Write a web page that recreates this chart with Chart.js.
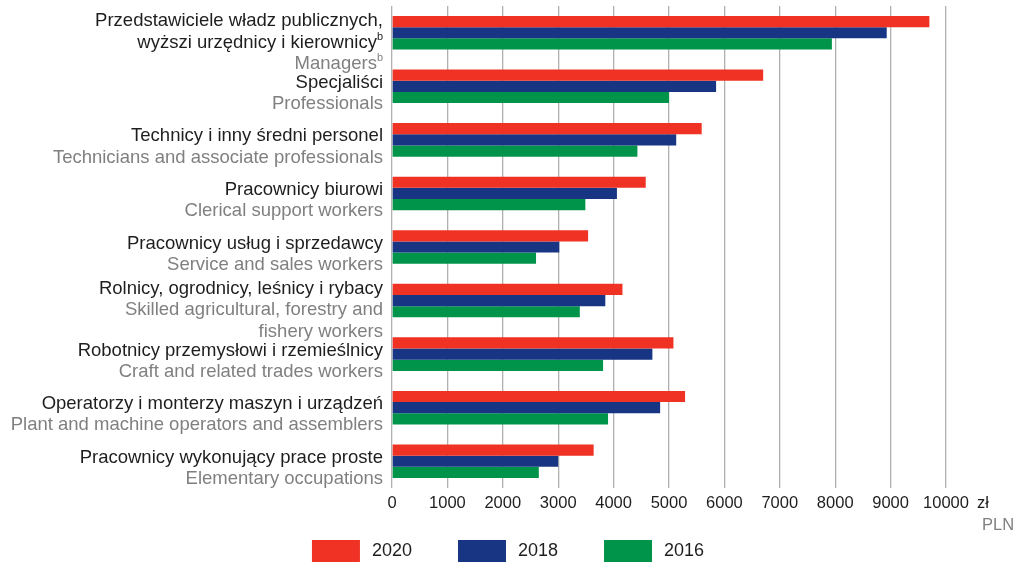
<!DOCTYPE html>
<html>
<head>
<meta charset="utf-8">
<script src="https://cdn.jsdelivr.net/npm/chart.js@4"></script>
<style>
  html, body { margin: 0; padding: 0; background: #fff; }
  #wrap { width: 1024px; height: 562px; position: relative; }
</style>
</head>
<body>
<div id="wrap"><canvas id="barChart"></canvas></div>
<script>
// categories: polish lines (black) and english lines (gray), "^b" = superscript note
var catPL = [
  ["Przedstawiciele władz publicznych,", "wyższi urzędnicy i kierownicy^b"],
  ["Specjaliści"],
  ["Technicy i inny średni personel"],
  ["Pracownicy biurowi"],
  ["Pracownicy usług i sprzedawcy"],
  ["Rolnicy, ogrodnicy, leśnicy i rybacy"],
  ["Robotnicy przemysłowi i rzemieślnicy"],
  ["Operatorzy i monterzy maszyn i urządzeń"],
  ["Pracownicy wykonujący prace proste"]
]
var catEN = [
  ["Managers^b"],
  ["Professionals"],
  ["Technicians and associate professionals"],
  ["Clerical support workers"],
  ["Service and sales workers"],
  ["Skilled agricultural, forestry and", "fishery workers"],
  ["Craft and related trades workers"],
  ["Plant and machine operators and assemblers"],
  ["Elementary occupations"]
]
var years = ["2020", "2018", "2016"]
var v2020 = [9700, 6700, 5590, 4580, 3540, 4160, 5080, 5290, 3640]
var v2018 = [8930, 5850, 5130, 4060, 3020, 3850, 4700, 4840, 3000]
var v2016 = [7940, 5000, 4430, 3490, 2600, 3390, 3810, 3900, 2650]
var xTicks = [0, 1000, 2000, 3000, 4000, 5000, 6000, 7000, 8000, 9000, 10000]

var colors = ['#ef3224', '#173583', '#00944a']
var FONT = "'Liberation Sans', Arial, sans-serif"
var BLACK = '#1e1e1e'
var GRAY = '#808080'

Chart.defaults.font.family = FONT
Chart.defaults.font.size = 16.5
Chart.defaults.color = BLACK

function drawLine(ctx, text, x, y, color) {
  var sup = null
  if (text.indexOf('^') >= 0) {
    sup = text.split('^')[1]
    text = text.split('^')[0]
  }
  ctx.fillStyle = color
  var right = x
  if (sup) {
    ctx.font = '11px ' + FONT
    var w = ctx.measureText(sup).width
    ctx.textAlign = 'right'
    ctx.fillText(sup, right, y - 6)
    right = right - w
  }
  ctx.font = '18.5px ' + FONT
  ctx.textAlign = 'right'
  ctx.fillText(text, right, y)
}

var extras = {
  id: 'extras',
  afterDraw: function (chart) {
    var ctx = chart.ctx
    var y = chart.scales.y
    var x = chart.scales.x
    ctx.save()
    ctx.textBaseline = 'middle'
    // category labels
    for (var i = 0; i < catPL.length; i++) {
      var c = y.getPixelForValue(i)
      var lines = catPL[i].map(function (t) { return [t, BLACK] })
        .concat(catEN[i].map(function (t) { return [t, GRAY] }))
      var n = lines.length
      var top = c - 3.5 - (n - 2) * 8
      for (var j = 0; j < n; j++) {
        drawLine(ctx, lines[j][0], 383, top + j * 21.2, lines[j][1])
      }
    }
    // unit
    var px = x.getPixelForValue(10000)
    ctx.font = '16.5px ' + FONT
    ctx.textAlign = 'left'
    ctx.fillStyle = BLACK
    ctx.fillText('zł', px + 31, 503)
    ctx.fillStyle = GRAY
    ctx.fillText('PLN', px + 36, 525)
    // legend
    ctx.font = '18px ' + FONT
    var boxW = 48, boxH = 22, gap = 12, space = 46
    var widths = years.map(function (t) { return boxW + gap + ctx.measureText(t).width })
    var total = widths.reduce(function (a, b) { return a + b }, 0) + space * (years.length - 1)
    var lx = 508 - total / 2
    for (var k = 0; k < years.length; k++) {
      ctx.fillStyle = colors[k]
      ctx.fillRect(lx, 540, boxW, boxH)
      ctx.fillStyle = BLACK
      ctx.fillText(years[k], lx + boxW + gap, 551)
      lx += widths[k] + space
    }
    ctx.restore()
  }
}

var chart = new Chart('barChart', {
  type: 'bar',
  data: {
    labels: catEN.map(function (l) { return l.join(' ') }),
    datasets: [
      { label: years[0], data: v2020, backgroundColor: colors[0] },
      { label: years[1], data: v2018, backgroundColor: colors[1] },
      { label: years[2], data: v2016, backgroundColor: colors[2] }
    ]
  },
  options: {
    indexAxis: 'y',
    responsive: true,
    maintainAspectRatio: false,
    animation: false,
    categoryPercentage: 0.627,
    barPercentage: 1.0,
    layout: { padding: { top: 6, right: 78, left: 0, bottom: 0 } },
    plugins: {
      legend: { display: false },
      tooltip: { enabled: false }
    },
    scales: {
      x: {
        min: 0,
        max: 10000,
        afterBuildTicks: function (s) { s.ticks = xTicks.map(function (v) { return { value: v } }) },
        afterFit: function (s) { s.height = 74 },
        grid: { color: '#b0b0b0', lineWidth: 1.3, drawTicks: false },
        border: { display: false },
        ticks: {
          padding: 6,
          color: BLACK,
          maxRotation: 0,
          callback: function (v) { return String(v) }
        }
      },
      y: {
        afterFit: function (s) { s.width = 392 },
        grid: { display: false },
        border: { display: false },
        ticks: { display: false }
      }
    }
  },
  plugins: [extras]
})
</script>
</body>
</html>
